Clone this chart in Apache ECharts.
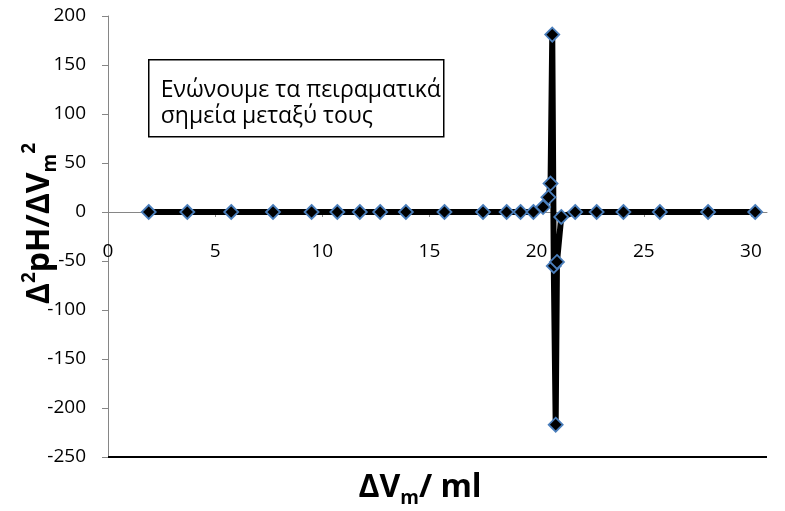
<!DOCTYPE html>
<html>
<head>
<meta charset="utf-8">
<script src="https://cdn.jsdelivr.net/npm/echarts@6/dist/echarts.min.js"></script>
<style>
  html, body { margin: 0; padding: 0; background: #fff; }
  #chart { width: 785px; height: 511px; }
</style>
</head>
<body>
<div id="chart"></div>
<script>
// ΔVm (ml) and second derivative Δ²pH/ΔVm², in data order
const volumes = [1.9, 3.7, 5.75, 7.7, 9.5, 10.7, 11.75, 12.7, 13.9, 15.7, 17.5, 18.6, 19.25, 19.85,
  20.3, 20.55, 20.65, 20.73, 20.8, 20.89, 20.95, 21.15, 21.8, 22.8, 24.05, 25.75, 28.0, 30.2]
const secondDeriv = [0, 0, 0, 0, 0, 0, 0, 0, 0, 0, 0, 0, 0, 0,
  5, 15, 29, 181, -55, -217, -51, -5, 0, 0, 0, 0, 0, 0]
const yTicks = { min: -250, max: 200, step: 50 }
const xTicks = { min: 0, max: 30.75, step: 5 }
const noteLines = ['Ενώνουμε τα πειραματικά', 'σημεία μεταξύ τους']

const points = volumes.map((v, i) => [v, secondDeriv[i]])
const font = 'Open Sans'
const titleRich = {
  b: { fontFamily: font, fontWeight: 'bold', fontSize: 32, color: '#000', lineHeight: 40 },
  sup: { fontFamily: font, fontWeight: 'bold', fontSize: 19, color: '#000', verticalAlign: 'top', lineHeight: 40 },
  sub: { fontFamily: font, fontWeight: 'bold', fontSize: 19, color: '#000', verticalAlign: 'bottom', lineHeight: 40 }
}

const chart = echarts.init(document.getElementById('chart'))
chart.setOption({
  animation: false,
  grid: {
    left: 108,
    right: 18,
    top: 16,
    bottom: 54,
    outerBoundsMode: 'none'
  },
  xAxis: {
    type: 'value',
    min: xTicks.min,
    max: xTicks.max,
    interval: xTicks.step,
    axisLine: { onZero: true, lineStyle: { color: '#868686', width: 1 } },
    axisTick: { show: true, inside: false, length: 5, lineStyle: { color: '#868686' } },
    axisLabel: {
      showMaxLabel: false,
      // labels stay at the grid edge when the line sits on zero; pull them up under it
      margin: -215,
      color: '#000',
      fontFamily: font,
      fontSize: 19
    },
    splitLine: { show: false }
  },
  yAxis: {
    type: 'value',
    min: yTicks.min,
    max: yTicks.max,
    interval: yTicks.step,
    axisLine: { show: true, lineStyle: { color: '#868686', width: 1 } },
    axisTick: { show: true, length: 6, lineStyle: { color: '#868686' } },
    axisLabel: {
      margin: 22,
      color: '#000',
      fontFamily: font,
      fontSize: 19
    },
    splitLine: { show: false },
    name: '{b|Δ}{sup|2}{b|pH/ΔV}{sub|m}{sup|2}',
    nameLocation: 'middle',
    nameGap: 48,
    nameMoveOverlap: false,
    nameTextStyle: {
      padding: [0, 0, 0, 26],
      rich: titleRich
    }
  },
  graphic: [
    {
      type: 'group',
      left: 148,
      top: 59,
      children: [
        {
          type: 'rect',
          shape: { x: 0, y: 0, width: 295, height: 77 },
          style: { fill: '#fff', stroke: '#000', lineWidth: 1.5 }
        },
        {
          type: 'text',
          x: 12,
          y: 18,
          style: {
            text: noteLines.join('\n'),
            font: '23px "Open Sans"',
            lineHeight: 26,
            fill: '#000'
          }
        }
      ]
    },
    {
      // x axis title
      type: 'text',
      x: 420,
      y: 488,
      style: {
        text: '{b|ΔV}{sub|m}{b|/ ml}',
        rich: titleRich,
        align: 'center',
        verticalAlign: 'middle'
      }
    }
  ],
  series: [
    {
      type: 'line',
      data: points,
      symbol: 'diamond',
      symbolSize: 14,
      showAllSymbol: true,
      lineStyle: { color: '#000', width: 6 },
      itemStyle: { color: '#000', borderColor: '#4a7ebb', borderWidth: 1.8 },
      z: 3,
      markLine: {
        silent: true,
        symbol: 'none',
        label: { show: false },
        lineStyle: { color: '#000', width: 2, type: 'solid' },
        data: [{ yAxis: yTicks.min }]
      }
    }
  ]
})
</script>
</body>
</html>
